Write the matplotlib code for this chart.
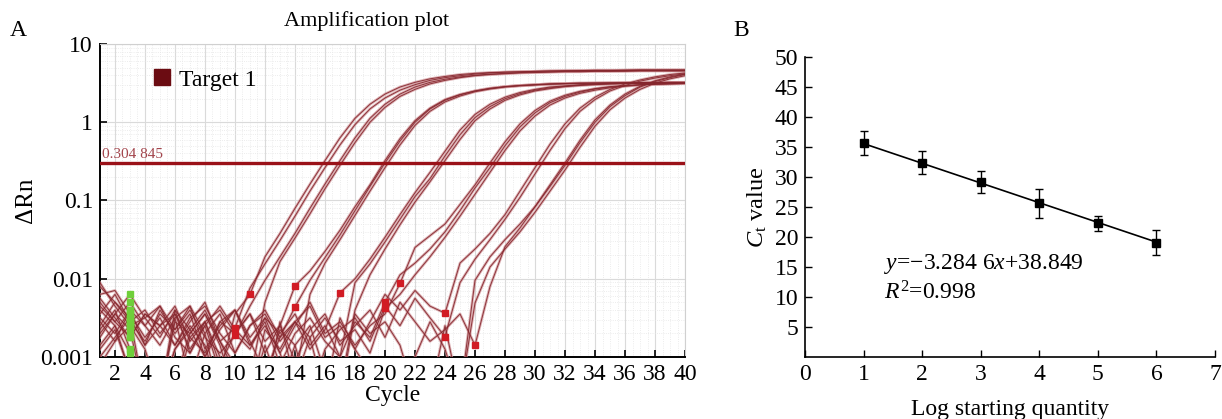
import numpy as np
import matplotlib
matplotlib.use('Agg')
from matplotlib import pyplot as plt
from matplotlib.lines import Line2D
from matplotlib.ticker import FixedLocator, MultipleLocator, LogLocator, NullFormatter

plt.rcParams['font.family'] = ['Liberation Serif', 'DejaVu Serif']
plt.rcParams['mathtext.fontset'] = 'custom'
plt.rcParams['mathtext.rm'] = 'Liberation Serif'
plt.rcParams['mathtext.it'] = 'Liberation Serif:italic'

#############
# Panel A: amplification curves, log10(delta Rn) per cycle
cycles = np.arange(1, 41)

a1 = [-2.10, -2.30, -2.55, -2.40, -2.70, -2.45, -2.90, -2.60, -3.20, -2.45,
      -2.20, -1.72, -1.42, -1.10, -0.79, -0.49, -0.20, 0.05, 0.23, 0.36,
      0.45, 0.51, 0.555, 0.585, 0.61, 0.625, 0.635, 0.64, 0.645, 0.65,
      0.655, 0.66, 0.66, 0.665, 0.665, 0.665, 0.67, 0.67, 0.67, 0.67]
a2 = [-2.20, -2.15, -2.45, -2.75, -2.50, -2.85, -2.55, -2.30, -2.80, -2.63,
      -2.12, -1.81, -1.51, -1.20, -0.88, -0.58, -0.29, -0.03, 0.17, 0.31,
      0.41, 0.48, 0.535, 0.57, 0.595, 0.615, 0.63, 0.64, 0.645, 0.65,
      0.655, 0.655, 0.66, 0.66, 0.66, 0.665, 0.665, 0.665, 0.665, 0.665]
b1 = [-2.05, -2.35, -2.60, -2.50, -2.35, -2.65, -2.40, -2.75, -2.95, -2.72,
      -2.35, -2.02, -1.72, -1.42, -1.10, -0.79, -0.49, -0.20, 0.05, 0.23,
      0.36, 0.45, 0.51, 0.55, 0.58, 0.60, 0.615, 0.625, 0.635, 0.64,
      0.645, 0.65, 0.65, 0.655, 0.655, 0.66, 0.66, 0.66, 0.66, 0.66]
b2 = [-2.40, -2.60, -2.95, -3.40, -3.50, -2.50, -3.30, -2.70, -3.50, -3.50,
      -3.30, -2.30, -1.78, -1.48, -1.17, -0.85, -0.55, -0.26, 0.00, 0.19,
      0.33, 0.42, 0.49, 0.535, 0.57, 0.595, 0.61, 0.62, 0.63, 0.635,
      0.64, 0.645, 0.645, 0.65, 0.65, 0.65, 0.655, 0.655, 0.655, 0.655]
c1 = [-2.25, -2.50, -2.75, -2.45, -2.60, -2.35, -2.80, -2.55, -3.10, -2.70,
      -2.45, -2.95, -2.60, -2.09, -1.90, -1.65, -1.38, -1.08, -0.80, -0.49,
      -0.21, 0.02, 0.18, 0.29, 0.355, 0.40, 0.435, 0.455, 0.47, 0.48,
      0.49, 0.495, 0.50, 0.50, 0.505, 0.505, 0.505, 0.51, 0.51, 0.51]
c2 = [-2.60, -2.30, -2.50, -2.85, -2.40, -2.70, -2.45, -3.00, -2.65, -2.40,
      -2.80, -3.20, -2.75, -2.36, -2.02, -1.73, -1.44, -1.13, -0.82, -0.52,
      -0.24, 0.00, 0.17, 0.28, 0.35, 0.40, 0.43, 0.455, 0.47, 0.48,
      0.49, 0.495, 0.50, 0.50, 0.50, 0.505, 0.505, 0.505, 0.51, 0.51]
c3 = [-2.90, -2.65, -3.20, -3.50, -3.50, -2.90, -2.60, -2.85, -3.50, -3.50,
      -3.50, -2.85, -3.40, -3.30, -2.20, -1.80, -1.50, -1.19, -0.88, -0.58,
      -0.29, -0.04, 0.14, 0.26, 0.335, 0.39, 0.425, 0.45, 0.465, 0.475,
      0.485, 0.49, 0.495, 0.50, 0.50, 0.50, 0.505, 0.505, 0.505, 0.505]
d1 = [-2.35, -2.55, -2.30, -2.60, -2.85, -2.50, -2.35, -2.70, -2.45, -2.95,
      -2.60, -2.40, -2.75, -2.55, -2.90, -2.65, -2.18, -2.00, -1.75, -1.47,
      -1.18, -0.90, -0.64, -0.37, -0.10, 0.10, 0.23, 0.32, 0.38, 0.42,
      0.45, 0.465, 0.48, 0.49, 0.495, 0.50, 0.50, 0.505, 0.505, 0.505]
d2 = [-2.70, -2.45, -2.20, -2.50, -2.75, -2.40, -2.95, -2.60, -2.35, -2.65,
      -2.85, -2.55, -3.10, -2.70, -2.50, -2.80, -3.00, -2.05, -1.81, -1.53,
      -1.24, -0.95, -0.72, -0.43, -0.16, 0.06, 0.20, 0.30, 0.365, 0.41,
      0.44, 0.46, 0.475, 0.485, 0.49, 0.495, 0.50, 0.50, 0.50, 0.505]
d3 = [-3.00, -2.75, -2.50, -3.50, -3.50, -3.30, -2.70, -2.45, -2.80, -3.20,
      -3.50, -3.50, -3.40, -2.85, -2.60, -3.20, -3.40, -2.40, -1.95, -1.62,
      -1.31, -1.02, -0.76, -0.49, -0.22, 0.02, 0.17, 0.28, 0.35, 0.40,
      0.43, 0.455, 0.47, 0.48, 0.49, 0.495, 0.495, 0.50, 0.50, 0.50]
e1 = [-2.45, -2.20, -2.55, -2.80, -2.45, -2.65, -2.35, -2.90, -2.60, -2.40,
      -2.75, -2.50, -2.95, -2.60, -2.30, -2.70, -2.55, -2.85, -2.60, -2.45,
      -2.06, -1.60, -1.45, -1.30, -1.05, -0.80, -0.52, -0.25, -0.02, 0.15,
      0.27, 0.345, 0.395, 0.43, 0.455, 0.47, 0.48, 0.49, 0.495, 0.50]
e2 = [-2.55, -2.80, -2.40, -2.60, -2.35, -2.75, -2.95, -2.55, -2.40, -2.70,
      -2.90, -2.50, -2.70, -2.45, -2.85, -2.60, -3.00, -2.55, -2.75, -2.30,
      -1.95, -1.80, -1.62, -1.40, -1.13, -0.84, -0.58, -0.30, -0.06, 0.12,
      0.25, 0.33, 0.385, 0.425, 0.45, 0.465, 0.48, 0.485, 0.49, 0.495]
e3 = [-2.85, -2.60, -3.20, -3.50, -3.50, -2.90, -2.65, -2.40, -2.80, -3.10,
      -3.50, -3.50, -2.55, -3.30, -2.75, -2.50, -2.80, -2.65, -2.95, -2.38,
      -2.20, -1.95, -1.72, -1.47, -1.20, -0.92, -0.64, -0.36, -0.11, 0.08,
      0.22, 0.31, 0.37, 0.41, 0.44, 0.46, 0.475, 0.485, 0.49, 0.495]
f1 = [-2.30, -2.55, -2.75, -2.45, -2.60, -2.85, -2.50, -2.35, -2.70, -2.95,
      -2.60, -2.45, -2.80, -2.55, -2.35, -2.75, -2.60, -2.90, -2.55, -2.20,
      -2.40, -2.15, -2.35, -2.44, -1.80, -1.62, -1.42, -1.18, -0.88, -0.58,
      -0.28, -0.02, 0.18, 0.32, 0.42, 0.49, 0.54, 0.58, 0.61, 0.63]
f2 = [-2.65, -2.40, -2.90, -3.50, -3.50, -2.40, -2.65, -3.00, -2.55, -2.40,
      -2.85, -2.60, -2.95, -3.50, -3.50, -2.90, -2.65, -2.50, -2.80, -2.35,
      -2.60, -2.25, -2.50, -2.74, -2.05, -1.75, -1.50, -1.24, -0.96, -0.66,
      -0.36, -0.08, 0.14, 0.29, 0.40, 0.47, 0.525, 0.565, 0.595, 0.62]
g1 = [-2.50, -2.70, -2.40, -2.85, -2.60, -2.45, -2.75, -2.95, -2.55, -2.70,
      -2.45, -2.80, -2.60, -3.05, -2.65, -2.45, -2.85, -2.60, -2.40, -2.75,
      -2.30, -2.55, -2.80, -2.65, -2.45, -2.85, -2.10, -1.59, -1.35, -1.08,
      -0.80, -0.52, -0.23, 0.03, 0.22, 0.36, 0.46, 0.53, 0.58, 0.615]
g2 = [-2.75, -2.45, -2.65, -3.50, -3.50, -2.55, -2.70, -2.45, -2.85, -3.50,
      -3.50, -2.65, -2.90, -2.55, -2.75, -3.50, -3.50, -2.45, -2.70, -2.55,
      -2.85, -3.50, -3.50, -2.60, -3.50, -2.02, -1.72, -1.50, -1.30, -1.08,
      -0.82, -0.55, -0.26, 0.00, 0.20, 0.34, 0.45, 0.52, 0.57, 0.61]
g3 = [-3.10, -2.80, -2.60, -2.90, -3.50, -3.50, -2.75, -2.55, -3.00, -3.50,
      -3.50, -3.30, -2.65, -2.85, -3.50, -3.50, -2.50, -2.90, -3.20, -3.50,
      -3.50, -3.00, -2.55, -2.90, -3.50, -2.31, -1.85, -1.62, -1.40, -1.15,
      -0.88, -0.61, -0.32, -0.05, 0.16, 0.31, 0.42, 0.50, 0.555, 0.595]

curves = [a1, a2, b1, b2, c1, c2, c3, d1, d2, d3, e1, e2, e3, f1, f2, g1, g2, g3]
# cycle where the baseline ends (red square), None = not shown
baseline_end = [11, 10, 10, None, 14, 14, None, 17, None, None, 21, 20, 20, 24, 24, 26, None, None]
baseline_start = 3
threshold = 0.304845

# Panel B: standard curve
log_qty = [1, 2, 3, 4, 5, 6]
ct_mean = [35.6, 32.4, 29.1, 25.6, 22.3, 19.05]
ct_err = [2.0, 1.95, 1.85, 2.4, 1.25, 2.1]
slope = -3.2846
intercept = 38.849

#############
fig = plt.figure(figsize=(12.22, 4.19), dpi=100)
axA = fig.add_axes([0.0818, 0.148, 0.4788, 0.747])
axB = fig.add_axes([0.6588, 0.148, 0.3355, 0.716])

# amplification plot
for i, cv in enumerate(curves):
    dRn = 10 ** np.array(cv)
    axA.plot(cycles, dRn, color='#cf9296', lw=2.0, alpha=0.7, zorder=3)
    axA.plot(cycles, dRn, color='#85262d', lw=0.7, alpha=0.9, zorder=4)
    axA.plot(baseline_start, dRn[baseline_start - 1], marker='s', ms=4.5,
             color='#6fcf3a', ls='', zorder=5)
    if baseline_end[i] is not None:
        axA.plot(baseline_end[i], dRn[baseline_end[i] - 1], marker='s', ms=5,
                 color='#d11b24', ls='', zorder=5)

axA.axhline(threshold, color='#9a1118', lw=2.4, zorder=6)
axA.text(1.15, threshold * 1.06, '0.304 845', color='#a3454c', fontsize=11,
         va='bottom', ha='left', zorder=7)

axA.set_yscale('log')
axA.set_xlim(1, 40)
axA.set_ylim(0.001, 10)
axA.xaxis.set_major_locator(FixedLocator(np.arange(2, 41, 2)))
axA.xaxis.set_minor_locator(MultipleLocator(0.5))
axA.yaxis.set_major_locator(FixedLocator([0.001, 0.01, 0.1, 1, 10]))
axA.yaxis.set_minor_locator(LogLocator(base=10, subs=np.arange(2, 10)))
axA.yaxis.set_minor_formatter(NullFormatter())
axA.set_yticklabels(['0.001', '0.01', '0.1', '1', '10'])
axA.grid(True, which='major', color='#dadada', lw=0.8)
axA.grid(True, which='minor', color='#e6e6e6', lw=0.6, ls=':')
axA.tick_params(which='major', direction='in', length=5, width=1.2,
                labelsize=17, pad=5)
axA.tick_params(which='minor', length=0)
for s in ['top', 'right']:
    axA.spines[s].set_color('#d0d0d0')
for s in ['left', 'bottom']:
    axA.spines[s].set_linewidth(1.4)
axA.set_xlabel('Cycle', fontsize=17, labelpad=0)
axA.set_ylabel('ΔRn', fontsize=18, labelpad=2)
axA.set_title('Amplification plot', fontsize=16, x=0.455, pad=13)

handle = Line2D([], [], marker='s', ls='', color='#6b0c12', ms=12)
axA.legend([handle], ['Target 1'], loc='center left', frameon=False,
           bbox_to_anchor=(0.05, 0.885), fontsize=17, handletextpad=0.2,
           handlelength=1.0)

# standard curve
axB.errorbar(log_qty, ct_mean, yerr=ct_err, fmt='s', color='black', ms=6,
             capsize=3, elinewidth=1.0, capthick=1.0, zorder=3)
fit_x = np.array([log_qty[0], log_qty[-1]])
axB.plot(fit_x, slope * fit_x + intercept, color='black', lw=1.2, zorder=2)
axB.set_xlim(0, 7)
axB.set_ylim(0, 50)
axB.set_xticks(range(0, 8))
axB.set_yticks(range(5, 51, 5))
axB.tick_params(direction='in', length=5, width=1.0, labelsize=17, pad=5)
axB.spines['top'].set_visible(False)
axB.spines['right'].set_visible(False)
axB.spines['left'].set_linewidth(1.2)
axB.spines['bottom'].set_linewidth(1.2)
axB.set_xlabel('Log starting quantity', fontsize=17, labelpad=10)
axB.set_ylabel(r'$C_\mathrm{t}$ value', fontsize=17.5, labelpad=4)
axB.text(1.35, 15.5, r'$y$=−3.284 6$x$+38.849', fontsize=17, va='center')
axB.text(1.35, 10.7, r'$R^2$=0.998', fontsize=17, va='center')

fig.text(10 / 1222, 1 - 30 / 419, 'A', fontsize=17, va='center')
fig.text(733 / 1222, 1 - 30 / 419, 'B', fontsize=17, va='center')

fig.savefig('out.png', dpi=100)
